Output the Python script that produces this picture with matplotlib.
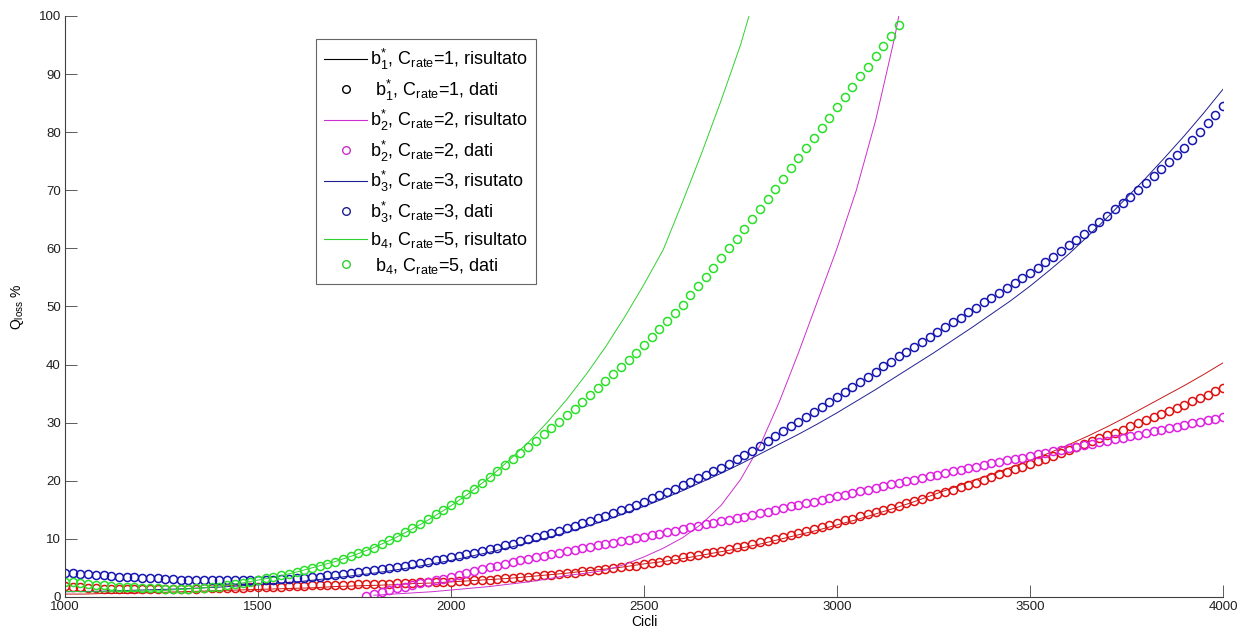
import matplotlib.pyplot as plt
import numpy as np
from matplotlib.lines import Line2D

plt.rcParams['font.family'] = ['Liberation Sans', 'DejaVu Sans']
plt.rcParams['mathtext.fontset'] = 'custom'
plt.rcParams['mathtext.rm'] = 'Liberation Sans'
plt.rcParams['mathtext.it'] = 'Liberation Sans:italic'

# measured capacity loss (dati), one point every 20 cycles
cicli_b1 = np.arange(1000, 4001, 20)
dati_b1 = [
    1.9, 1.8, 1.7, 1.6, 1.5, 1.4, 1.4, 1.3, 1.3, 1.3,
    1.3, 1.3, 1.3, 1.3, 1.3, 1.4, 1.4, 1.4, 1.5, 1.5,
    1.5, 1.6, 1.6, 1.6, 1.7, 1.7, 1.7, 1.8, 1.8, 1.9,
    1.9, 1.9, 2.0, 2.0, 2.0, 2.0, 2.1, 2.1, 2.2, 2.2,
    2.2, 2.3, 2.3, 2.4, 2.4, 2.4, 2.5, 2.5, 2.6, 2.6,
    2.6, 2.7, 2.8, 2.9, 2.9, 3.0, 3.1, 3.2, 3.3, 3.4,
    3.5, 3.6, 3.7, 3.8, 4.0, 4.1, 4.2, 4.4, 4.5, 4.7,
    4.8, 5.0, 5.1, 5.3, 5.4, 5.6, 5.8, 6.1, 6.3, 6.6,
    6.8, 7.0, 7.3, 7.5, 7.8, 8.0, 8.3, 8.6, 8.8, 9.1,
    9.4, 9.7, 10.0, 10.4, 10.7, 11.0, 11.4, 11.7, 12.1, 12.4,
    12.8, 13.2, 13.5, 13.9, 14.2, 14.6, 15.0, 15.3, 15.7, 16.1,
    16.5, 16.9, 17.3, 17.7, 18.1, 18.5, 18.9, 19.3, 19.7, 20.2,
    20.6, 21.1, 21.5, 22.0, 22.4, 22.9, 23.4, 23.8, 24.3, 24.8,
    25.3, 25.8, 26.3, 26.8, 27.3, 27.8, 28.3, 28.8, 29.4, 29.9,
    30.4, 30.9, 31.5, 32.0, 32.6, 33.1, 33.7, 34.3, 34.8, 35.4,
    36.0,
]

cicli_b2 = np.arange(1780, 4001, 20)
dati_b2 = [
    0.2, 0.6, 0.9, 1.2, 1.5, 1.8, 2.1, 2.4, 2.6, 2.9, 3.1,
    3.4, 3.7, 4.1, 4.4, 4.8, 5.1, 5.4, 5.7, 6.0, 6.3,
    6.6, 6.9, 7.1, 7.4, 7.6, 7.9, 8.1, 8.4, 8.6, 8.9,
    9.1, 9.3, 9.6, 9.8, 10.1, 10.3, 10.6, 10.9, 11.2, 11.4,
    11.7, 12.0, 12.2, 12.5, 12.7, 13.0, 13.3, 13.6, 13.8, 14.1,
    14.4, 14.7, 15.0, 15.3, 15.6, 15.9, 16.2, 16.4, 16.7, 17.0,
    17.3, 17.6, 17.9, 18.2, 18.5, 18.8, 19.1, 19.4, 19.6, 19.9,
    20.2, 20.5, 20.8, 21.0, 21.3, 21.6, 21.9, 22.2, 22.4, 22.7,
    23.0, 23.3, 23.5, 23.8, 24.0, 24.3, 24.6, 24.8, 25.1, 25.3,
    25.6, 25.9, 26.1, 26.4, 26.6, 26.9, 27.2, 27.4, 27.7, 27.9,
    28.2, 28.5, 28.8, 29.0, 29.3, 29.6, 29.9, 30.2, 30.4, 30.7,
    31.0,
]

cicli_b3 = np.arange(1000, 4001, 20)
dati_b3 = [
    4.2, 4.1, 4.0, 3.9, 3.8, 3.7, 3.6, 3.5, 3.4, 3.4,
    3.3, 3.2, 3.2, 3.1, 3.1, 3.0, 3.0, 3.0, 2.9, 2.9,
    2.9, 2.9, 2.9, 2.9, 2.9, 2.9, 3.0, 3.0, 3.1, 3.1,
    3.2, 3.3, 3.4, 3.5, 3.7, 3.8, 3.9, 4.1, 4.3, 4.4,
    4.6, 4.8, 5.0, 5.2, 5.4, 5.6, 5.8, 6.1, 6.3, 6.6,
    6.8, 7.1, 7.4, 7.6, 7.9, 8.2, 8.5, 8.9, 9.2, 9.6,
    9.9, 10.3, 10.6, 11.0, 11.4, 11.8, 12.2, 12.7, 13.1, 13.6,
    14.0, 14.5, 15.0, 15.4, 15.9, 16.4, 17.0, 17.5, 18.1, 18.6,
    19.2, 19.8, 20.4, 21.0, 21.6, 22.2, 22.9, 23.7, 24.4, 25.2,
    26.0, 26.8, 27.7, 28.5, 29.4, 30.2, 31.0, 31.9, 32.7, 33.6,
    34.4, 35.3, 36.2, 37.0, 37.9, 38.8, 39.7, 40.5, 41.4, 42.2,
    43.1, 43.9, 44.8, 45.6, 46.5, 47.3, 48.1, 49.0, 49.8, 50.7,
    51.5, 52.4, 53.2, 54.1, 54.9, 55.8, 56.7, 57.7, 58.6, 59.6,
    60.5, 61.5, 62.5, 63.5, 64.6, 65.6, 66.7, 67.8, 68.9, 70.1,
    71.2, 72.4, 73.6, 74.8, 76.0, 77.3, 78.7, 80.1, 81.5, 83.0,
    84.5,
]

cicli_b4 = np.arange(1000, 3161, 20)
dati_b4 = [
    2.6, 2.5, 2.4, 2.2, 2.1, 2.0, 1.9, 1.8, 1.7, 1.7,
    1.6, 1.5, 1.5, 1.4, 1.4, 1.4, 1.4, 1.5, 1.6, 1.7,
    1.8, 2.0, 2.2, 2.4, 2.6, 2.9, 3.2, 3.4, 3.7, 4.0,
    4.3, 4.6, 5.0, 5.3, 5.7, 6.1, 6.5, 7.0, 7.5, 8.0,
    8.5, 9.1, 9.8, 10.4, 11.2, 11.9, 12.6, 13.4, 14.2, 15.0,
    15.8, 16.7, 17.7, 18.6, 19.6, 20.6, 21.6, 22.7, 23.7, 24.8,
    25.8, 26.9, 28.0, 29.1, 30.2, 31.3, 32.4, 33.6, 34.7, 35.9,
    37.1, 38.3, 39.5, 40.8, 42.0, 43.3, 44.7, 46.1, 47.5, 48.9,
    50.3, 51.9, 53.5, 55.1, 56.7, 58.3, 60.0, 61.7, 63.4, 65.1,
    66.8, 68.5, 70.3, 72.0, 73.8, 75.5, 77.3, 79.0, 80.8, 82.5,
    84.3, 86.0, 87.8, 89.6, 91.3, 93.1, 94.9, 96.6, 98.4,
]

# model curves (risultato), every 50 cycles
cicli_fit_b1 = np.arange(1000, 4001, 50)
fit_b1 = [
    0.5, 0.5, 0.6, 0.6, 0.7, 0.8, 0.9, 1.0, 1.1, 1.2,
    1.3, 1.4, 1.5, 1.6, 1.8, 1.9, 2.0, 2.1, 2.3, 2.4,
    2.6, 2.8, 3.0, 3.2, 3.5, 3.8, 4.1, 4.5, 4.8, 5.2,
    5.7, 6.1, 6.6, 7.2, 7.8, 8.4, 9.1, 9.9, 10.7, 11.5,
    12.4, 13.3, 14.3, 15.3, 16.4, 17.6, 18.8, 20.0, 21.1, 22.3,
    23.5, 24.8, 26.2, 27.7, 29.3, 31.0, 32.8, 34.6, 36.4, 38.3,
    40.3,
]

cicli_fit_b2 = [1800, 1850, 1900, 1950, 2000, 2050, 2100, 2150, 2200, 2250,
                2300, 2350, 2400, 2450, 2500, 2550, 2600, 2650, 2700, 2750,
                2800, 2850, 2900, 2950, 3000, 3050, 3100, 3150, 3160]
fit_b2 = [
    0.3, 0.5, 0.7, 0.9, 1.2, 1.5, 1.8, 2.2, 2.6, 3.1,
    3.7, 4.1, 4.6, 5.6, 6.9, 8.4, 10.2, 12.6, 15.8, 20.2,
    26.0, 33.5, 42.0, 51.0, 60.0, 70.0, 82.0, 96.5, 100.0,
]

cicli_fit_b3 = np.arange(1000, 4001, 50)
fit_b3 = [
    0.9, 0.95, 1.0, 1.1, 1.2, 1.3, 1.4, 1.55, 1.7, 1.9,
    2.1, 2.35, 2.6, 2.95, 3.3, 3.7, 4.1, 4.6, 5.1, 5.7,
    6.3, 7.0, 7.7, 8.5, 9.3, 10.2, 11.1, 12.1, 13.2, 14.4,
    15.6, 16.9, 18.3, 19.8, 21.3, 22.9, 24.6, 26.3, 28.0, 29.8,
    31.7, 33.7, 35.7, 37.8, 39.9, 42.0, 44.2, 46.4, 48.7, 51.0,
    53.5, 56.2, 59.0, 62.1, 65.3, 68.7, 72.1, 75.7, 79.4, 83.3,
    87.4,
]

cicli_fit_b4 = [1000, 1050, 1100, 1150, 1200, 1250, 1300, 1350, 1400, 1450,
                1500, 1550, 1600, 1650, 1700, 1750, 1800, 1850, 1900, 1950,
                2000, 2050, 2100, 2150, 2200, 2250, 2300, 2350, 2400, 2450,
                2500, 2550, 2600, 2650, 2700, 2750, 2772]
fit_b4 = [
    1.0, 0.9, 0.9, 0.9, 1.0, 1.1, 1.3, 1.5, 1.9, 2.3,
    2.9, 3.5, 4.3, 5.2, 6.1, 7.2, 8.5, 10.0, 11.7, 13.6,
    15.7, 18.0, 20.6, 23.5, 26.6, 30.1, 34.0, 38.3, 43.0, 48.2,
    53.8, 59.8, 68.0, 76.5, 85.5, 95.0, 100.0,
]

labels = [
    r'b$^{*}_{1}$, C$_{\mathrm{rate}}$=1, risultato',
    r' b$^{*}_{1}$, C$_{\mathrm{rate}}$=1, dati',
    r'b$^{*}_{2}$, C$_{\mathrm{rate}}$=2, risultato',
    r'b$^{*}_{2}$, C$_{\mathrm{rate}}$=2, dati',
    r'b$^{*}_{3}$, C$_{\mathrm{rate}}$=3, risutato',
    r'b$^{*}_{3}$, C$_{\mathrm{rate}}$=3, dati',
    r'b$_{4}$, C$_{\mathrm{rate}}$=5, risultato',
    r' b$_{4}$, C$_{\mathrm{rate}}$=5, dati',
]

fig = plt.figure(figsize=(12.4, 6.32), dpi=100)
ax = fig.add_axes([0.0524, 0.0554, 0.9339, 0.9193])

mk = dict(marker='o', ls='none', mfc='none', ms=5.8, mew=1.1)

ax.plot(cicli_fit_b1, fit_b1, color='#c81818', lw=0.7)
ax.plot(cicli_b1, dati_b1, color='#e01010', **mk)
ax.plot(cicli_fit_b2, fit_b2, color='#cc30cc', lw=0.7)
ax.plot(cicli_b2, dati_b2, color='#e020e0', **mk)
ax.plot(cicli_fit_b3, fit_b3, color='#202090', lw=0.7)
ax.plot(cicli_b3, dati_b3, color='#1515b0', **mk)
ax.plot(cicli_fit_b4, fit_b4, color='#30d030', lw=0.7)
ax.plot(cicli_b4, dati_b4, color='#28e028', **mk)

# legend entries as drawn by the original figure (first pair in black)
leg_colors = ['black', 'black', '#cc30cc', '#cc30cc', '#202090', '#202090', '#30d030', '#30d030']
handles = []
for i, c in enumerate(leg_colors):
    if i % 2 == 0:
        handles.append(Line2D([], [], color=c, lw=0.8))
    else:
        handles.append(Line2D([], [], color=c, marker='o', ls='none', mfc='none', ms=5.5, mew=1.0))
leg = ax.legend(handles, labels, loc='upper left', bbox_to_anchor=(0.2168, 0.9604),
                borderaxespad=0, fontsize=13, frameon=True, fancybox=False,
                edgecolor='#404040', handlelength=2.4, labelspacing=0.3,
                borderpad=0.45, handletextpad=0.15)
leg.get_frame().set_linewidth(0.8)

ax.set_xlim(1000, 4000)
ax.set_ylim(0, 100)
ax.set_xticks(np.arange(1000, 4001, 500))
ax.set_yticks(np.arange(0, 101, 10))
ax.tick_params(direction='in', length=8.5, width=0.6, color='#404040', labelsize=9.5,
               labelcolor='#202020', pad=3)
for s in ['top', 'right']:
    ax.spines[s].set_visible(False)
for s in ['left', 'bottom']:
    ax.spines[s].set_color('#404040')
    ax.spines[s].set_linewidth(0.8)

ax.set_xlabel('Cicli', fontsize=10, labelpad=1)
ax.set_ylabel(r'Q$_{\mathrm{loss}}$ %', fontsize=10, labelpad=9)

fig.savefig('out.png', dpi=100)
